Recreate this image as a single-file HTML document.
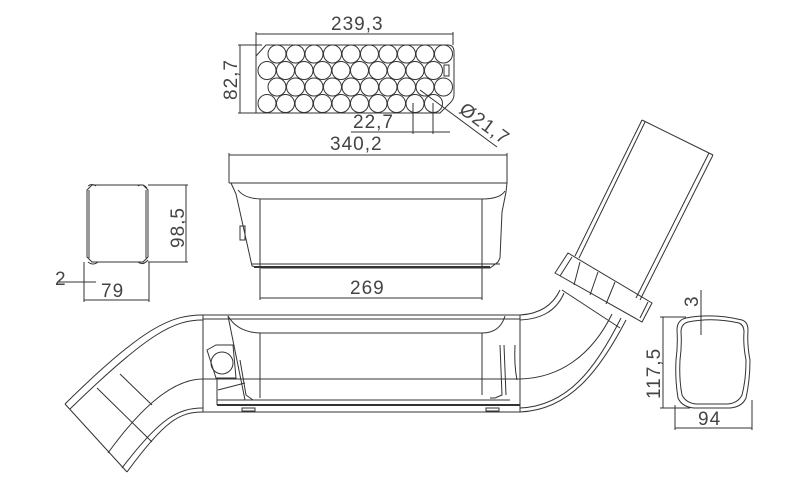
<!DOCTYPE html>
<html><head><meta charset="utf-8"><style>
html,body{margin:0;padding:0;background:#fff;}
svg{display:block}
text{font-family:"Liberation Sans",sans-serif;font-size:19px;fill:#444;letter-spacing:1px;}
</style></head><body>
<svg width="812" height="494" viewBox="0 0 812 494" xmlns="http://www.w3.org/2000/svg">
<g fill="none" stroke="#333" stroke-width="1">
<!-- Top circle pack -->
<path d="M266,45 L448,45 Q454,45 454,52 L454,95 Q454,100 448,105 L440,113 L256,113 L256,56 Z"/>
<line x1="256" y1="34" x2="453" y2="34"/>
<line x1="256" y1="32" x2="256" y2="100"/>
<line x1="453" y1="32" x2="453" y2="45"/>
<line x1="240" y1="45" x2="240" y2="113"/>
<line x1="238" y1="45" x2="262" y2="45"/>
<line x1="238" y1="113" x2="256" y2="113"/>
<circle cx="277" cy="54" r="9"/><circle cx="295.5" cy="54" r="9"/><circle cx="314" cy="54" r="9"/><circle cx="332.5" cy="54" r="9"/><circle cx="351" cy="54" r="9"/><circle cx="369.5" cy="54" r="9"/><circle cx="388" cy="54" r="9"/><circle cx="406.5" cy="54" r="9"/><circle cx="425" cy="54" r="9"/><circle cx="443.5" cy="54" r="9"/>
<circle cx="267" cy="70.5" r="9"/><circle cx="285.5" cy="70.5" r="9"/><circle cx="304" cy="70.5" r="9"/><circle cx="322.5" cy="70.5" r="9"/><circle cx="341" cy="70.5" r="9"/><circle cx="359.5" cy="70.5" r="9"/><circle cx="378" cy="70.5" r="9"/><circle cx="396.5" cy="70.5" r="9"/><circle cx="415" cy="70.5" r="9"/><circle cx="433.5" cy="70.5" r="9"/>
<circle cx="277" cy="87" r="9"/><circle cx="295.5" cy="87" r="9"/><circle cx="314" cy="87" r="9"/><circle cx="332.5" cy="87" r="9"/><circle cx="351" cy="87" r="9"/><circle cx="369.5" cy="87" r="9"/><circle cx="388" cy="87" r="9"/><circle cx="406.5" cy="87" r="9"/><circle cx="425" cy="87" r="9"/><circle cx="443.5" cy="87" r="9"/>
<circle cx="267" cy="103.5" r="9"/><circle cx="285.5" cy="103.5" r="9"/><circle cx="304" cy="103.5" r="9"/><circle cx="322.5" cy="103.5" r="9"/><circle cx="341" cy="103.5" r="9"/><circle cx="359.5" cy="103.5" r="9"/><circle cx="378" cy="103.5" r="9"/><circle cx="396.5" cy="103.5" r="9"/><circle cx="415" cy="103.5" r="9"/><circle cx="433.5" cy="103.5" r="9"/>
<rect x="444" y="65" width="5" height="11"/>
<line x1="413" y1="103" x2="413" y2="134"/>
<line x1="433" y1="103" x2="433" y2="134"/>
<line x1="351" y1="132" x2="450" y2="132"/>
<line x1="420" y1="90" x2="497" y2="147"/>
<!-- 340,2 front view -->
<line x1="229" y1="155" x2="507" y2="155"/>
<line x1="229" y1="153" x2="229" y2="183"/>
<line x1="507" y1="153" x2="507" y2="183"/>
<line x1="229" y1="183" x2="507" y2="183"/>
<path d="M231,183 L236,194 L252,266 L262,268 L490,268 L498,262 L500,258 L502,212 L506,192 L507,183"/>
<path d="M238,190 Q245,199 262,199 L482,199 Q500,199 505,191"/>
<line x1="260" y1="199" x2="260" y2="300"/>
<line x1="482" y1="199" x2="482" y2="300"/>
<line x1="252" y1="264" x2="500" y2="264"/>
<line x1="254" y1="267" x2="490" y2="267" stroke-width="2"/>
<rect x="240" y="226" width="5" height="14"/>
<line x1="260" y1="298" x2="482" y2="298"/>
<!-- side small view -->
<path d="M92,185 L143,185 L148,190 L148,257 L143,262 L92,262 L87,257 L87,190 Z"/>
<line x1="89" y1="190" x2="89" y2="258"/>
<line x1="146" y1="190" x2="146" y2="258"/>
<path d="M88,262 Q93,266 98,262 M138,262 Q143,266 148,260 M88,186 Q92,183 96,186 M138,186 Q143,183 147,188"/>
<path d="M148,185 L188,185 M148,262 L188,262"/>
<line x1="186" y1="185" x2="186" y2="262"/>
<line x1="84" y1="262" x2="84" y2="302"/>
<line x1="149" y1="262" x2="149" y2="302"/>
<line x1="84" y1="300" x2="149" y2="300"/>
<line x1="57" y1="282" x2="96" y2="282"/>
<!-- bottom: left bend -->
<path d="M203,315 C172,315 145,325 65,404"/>
<path d="M203,320 C175,320 150,331 70,409"/>
<path d="M203,412 C180,412 165,420 127,472"/>
<path d="M203,408 C178,408 160,418 122,468"/>
<path d="M203,379 C180,379 150,395 108,453"/>
<line x1="65" y1="404" x2="127" y2="472"/>
<line x1="97" y1="388" x2="152" y2="442"/>
<line x1="120" y1="374" x2="152" y2="405"/>
<!-- middle section -->
<rect x="203" y="315" width="317" height="97"/>
<line x1="203" y1="319" x2="520" y2="319"/>
<line x1="203" y1="379" x2="520" y2="379"/>
<line x1="217" y1="405" x2="520" y2="405" stroke-width="2"/>
<line x1="217" y1="400" x2="510" y2="400"/>
<line x1="217" y1="379" x2="217" y2="405"/>
<path d="M228,316 Q238,333 262,333 L482,333 Q500,333 505,316"/>
<line x1="260" y1="333" x2="260" y2="398"/>
<line x1="482" y1="333" x2="482" y2="395"/>
<line x1="228" y1="316" x2="245" y2="400"/>
<path d="M207,350 L216,345 L233,345 L236,378 L216,378 Z"/>
<circle cx="222" cy="363" r="11"/>
<path d="M240,360 L246,395 L253,400"/>
<path d="M218,390 L245,383"/>
<rect x="242" y="408" width="13" height="3"/>
<rect x="486" y="408" width="13" height="3"/>
<path d="M500,345 L502,395 L495,398 L490,398"/>
<path d="M504,345 L506,395"/>
<path d="M515,345 Q514,365 517,380"/>
<!-- right bend -->
<path d="M520,315 C538,314 552,307 560,290"/>
<path d="M520,320 C540,319 556,312 564,293"/>
<path d="M520,412 C570,410 600,370 626,320"/>
<path d="M520,408 C568,406 596,368 621,318"/>
<path d="M520,379 C560,378 592,355 612,314"/>
<line x1="562" y1="290" x2="620" y2="328"/>
<!-- collar -->
<path d="M555,273 L568,253 L652,303 L642,322 Z"/>
<path d="M560,276 L572,257 M640,318 L648,302"/>
<line x1="580" y1="262" x2="574" y2="285"/>
<line x1="598" y1="272" x2="590" y2="295"/>
<line x1="615" y1="282" x2="606" y2="304"/>
<!-- upper duct -->
<line x1="575" y1="256" x2="642" y2="120"/>
<line x1="579" y1="258" x2="645" y2="122"/>
<line x1="640" y1="300" x2="713" y2="155"/>
<line x1="636" y1="298" x2="709" y2="153"/>
<line x1="642" y1="120" x2="713" y2="155"/>
<!-- right section -->
<path d="M686,318 Q713,313 742,320 Q748,322 748,330 Q747,345 750,360 Q750,380 746,398 Q742,407 730,408 L694,408 Q682,407 678,398 Q675,380 676,360 Q678,345 677,330 Q677,320 686,318 Z"/>
<path d="M688,322 Q713,317 739,323 Q744,325 744,332 Q743,345 746,360 Q746,380 742,395 Q738,403 728,404 L696,404 Q686,403 682,395 Q679,380 680,360 Q682,345 681,332 Q681,324 688,322 Z"/>
<line x1="663" y1="317" x2="663" y2="408"/>
<line x1="660" y1="317" x2="686" y2="317"/>
<line x1="660" y1="408" x2="690" y2="408"/>
<line x1="675" y1="405" x2="675" y2="430"/>
<line x1="752" y1="400" x2="752" y2="430"/>
<line x1="675" y1="428" x2="752" y2="428"/>
<line x1="701" y1="290" x2="701" y2="335"/>
</g>
<text x="331" y="30">239,3</text>
<text transform="translate(237,100) rotate(-90)">82,7</text>
<text x="353" y="128">22,7</text>
<text transform="translate(458,112) rotate(36)">Ø21,7</text>
<text x="330" y="150">340,2</text>
<text transform="translate(184,248) rotate(-90)">98,5</text>
<text x="350" y="294">269</text>
<text x="101" y="297">79</text>
<text x="55" y="285">2</text>
<text transform="translate(660,399) rotate(-90)">117,5</text>
<text x="698" y="425">94</text>
<text transform="translate(698,307) rotate(-90)">3</text>
</svg>
</body></html>
